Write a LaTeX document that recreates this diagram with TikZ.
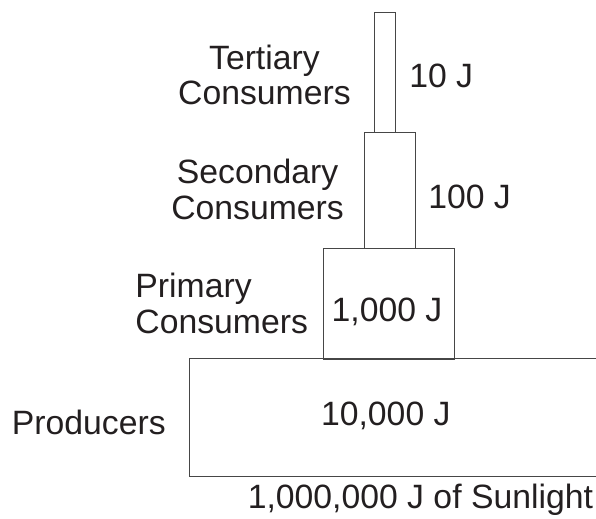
\documentclass[tikz,border=0pt]{standalone}
\usepackage{fontspec}
\setmainfont{Liberation Sans}
\usetikzlibrary{positioning}
\definecolor{PyrInk}{RGB}{35,31,32}
\definecolor{PyrLine}{RGB}{70,70,70}
\tikzset{
  pyr/level/.style={
    draw=PyrLine,
    line width=0.6pt,
    fill=none,
    inner sep=0pt
  },
  pyr/text/.style={
    text=PyrInk,
    inner sep=0pt,
    anchor=base,
    font=\fontsize{24}{25.6}\selectfont
  },
  pyr/name/.style={pyr/text, align=center}
}
\begin{document}
\begin{tikzpicture}[x=1cm,y=1cm]
  \useasboundingbox (0,0) rectangle (14.9,12.95);
  % trophic levels, widest first
  \node[pyr/level,minimum width=10.47cm,minimum height=2.935cm] (producers) at (9.965,2.51) {};
  \node[pyr/level,minimum width=3.285cm,minimum height=2.755cm] (primary) at (9.73,5.35) {};
  \node[pyr/level,minimum width=1.28cm,minimum height=2.895cm] (secondary) at (9.75,8.18) {};
  \node[pyr/level,minimum width=0.51cm,minimum height=3.005cm] (tertiary) at (9.625,11.13) {};
  % energy values
  \node[pyr/text] (tertiaryJ) at (11.03,10.77) {10 J};
  \node[pyr/text] (secondaryJ) at (11.74,7.74) {100 J};
  \node[pyr/text] (primaryJ) at (9.675,4.925) {1,000 J};
  \node[pyr/text] (producersJ) at (9.645,2.325) {10,000 J};
  \node[pyr/text] (sunlight) at (10.51,0.25) {1,000,000 J of Sunlight};
  % level names (base = last line)
  \node[pyr/name] (tertiaryName) at (6.61,10.325) {Tertiary\\Consumers};
  \node[pyr/name] (secondaryName) at (6.44,7.475) {Secondary\\Consumers};
  \node[pyr/name,align=left,anchor=base west] (primaryName) at (3.38,4.6175) {Primary\\Consumers};
  \node[pyr/text] (producersName) at (2.22,2.1) {Producers};
\end{tikzpicture}
\end{document}
